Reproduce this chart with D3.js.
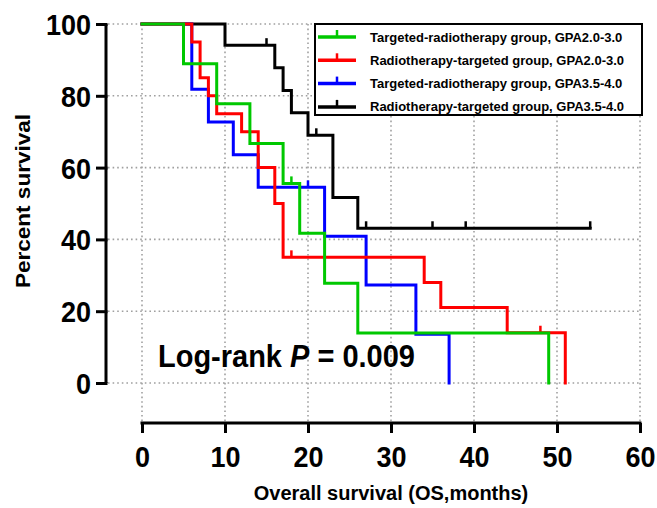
<!DOCTYPE html>
<html>
<head>
<meta charset="utf-8">
<script src="https://cdn.jsdelivr.net/npm/d3@7"></script>
<style>
  html, body { margin: 0; padding: 0; background: #fff; }
  svg { display: block; font-family: "Liberation Sans", Arial, sans-serif; }
</style>
</head>
<body>
<svg id="chart" width="657" height="508"></svg>
<script>
// ---- Data ----
const seriesNames = [
  "Targeted-radiotherapy group, GPA2.0-3.0",
  "Radiotherapy-targeted group, GPA2.0-3.0",
  "Targeted-radiotherapy group, GPA3.5-4.0",
  "Radiotherapy-targeted group, GPA3.5-4.0"
];
const seriesColors = ["#00c800", "#ff0000", "#0000ff", "#000000"];

const greenTimes = [0, 5, 9, 13, 17, 19, 22, 26, 49];
const greenSurv  = [100, 88.9, 77.8, 66.7, 55.6, 41.7, 27.8, 13.9, 0];
const greenCensor = [18];

const redTimes = [0, 6, 7, 8, 9, 12, 14, 16, 17, 34, 36, 44, 51];
const redSurv  = [100, 95, 85, 80, 75, 70, 60, 50, 35, 28, 21, 14, 0];
const redCensor = [18, 48];

const blueTimes = [0, 6, 8, 11, 14, 22, 27, 33, 37];
const blueSurv  = [100, 81.8, 72.7, 63.6, 54.5, 40.9, 27.3, 13.6, 0];
const blueCensor = [20];

const blackTimes = [0, 10, 16, 17, 18, 20, 23, 26, 54];
const blackSurv  = [100, 94.1, 87.8, 81.5, 75.3, 69.0, 51.7, 43.1, 43.1];
const blackCensor = [15, 21, 27, 35, 39, 54];

const xTicks = [0, 10, 20, 30, 40, 50, 60];
const yTicks = [0, 20, 40, 60, 80, 100];
const xTitle = "Overall survival (OS,months)";
const yTitle = "Percent survival";
const pLabel = ["Log-rank ", "P", " = 0.009"];

// ---- Layout ----
const svg = d3.select("#chart");
const x = d3.scaleLinear().domain([0, 60]).range([142, 640]);
const y = d3.scaleLinear().domain([0, 100]).range([383, 24]);
const yAxisX = 106;
const xAxisY = 423;

// gridlines
const grid = svg.append("g").attr("stroke", "#a0a0a0").attr("stroke-width", 1.6)
  .attr("stroke-dasharray", "1.6,3");
grid.selectAll("line.v").data(xTicks).join("line")
  .attr("x1", d => x(d)).attr("x2", d => x(d))
  .attr("y1", y(100)).attr("y2", xAxisY);
grid.selectAll("line.h").data(yTicks).join("line")
  .attr("x1", yAxisX + 2).attr("x2", x(60))
  .attr("y1", d => y(d)).attr("y2", d => y(d));

// axes
const yAxis = d3.axisLeft(y).tickValues(yTicks).tickSize(10).tickSizeOuter(0).tickPadding(5);
const gy = svg.append("g").attr("transform", `translate(${yAxisX},0)`).call(yAxis);
gy.select(".domain").attr("stroke", "#000").attr("stroke-width", 3).attr("d", `M0,${y(100)}V${y(0)}`);
gy.selectAll(".tick line").attr("stroke", "#000").attr("stroke-width", 3).attr("x1", 1.5);
gy.selectAll(".tick text").remove();
gy.selectAll(".tick").append("text")
  .attr("text-anchor", "end")
  .attr("font-size", 27).attr("font-weight", "bold").attr("fill", "#000")
  .attr("transform", "translate(-15,10.5) scale(1,1.1)")
  .text(d => d);

const xAxis = d3.axisBottom(x).tickValues(xTicks).tickSize(10).tickSizeOuter(0);
const gx = svg.append("g").attr("transform", `translate(0,${xAxisY})`).call(xAxis);
gx.select(".domain").attr("stroke", "#000").attr("stroke-width", 3).attr("d", `M${x(0) - 1.5},0H${x(60) + 1.5}`);
gx.selectAll(".tick line").attr("stroke", "#000").attr("stroke-width", 3);
gx.selectAll(".tick text").remove();
gx.selectAll(".tick").append("text")
  .attr("text-anchor", "middle")
  .attr("font-size", 27).attr("font-weight", "bold").attr("fill", "#000")
  .attr("transform", "translate(0,44) scale(1,1.1)")
  .text(d => d);

// axis titles
svg.append("text").attr("x", 391).attr("y", 499.5).attr("text-anchor", "middle")
  .attr("font-size", 20).attr("font-weight", "bold").text(xTitle);
svg.append("text").attr("transform", "translate(30,201) rotate(-90) scale(1.1,1)").attr("text-anchor", "middle")
  .attr("font-size", 20.5).attr("font-weight", "bold").text(yTitle);

// curves
const series = [
  { times: blackTimes, surv: blackSurv, censor: blackCensor, color: seriesColors[3] },
  { times: blueTimes, surv: blueSurv, censor: blueCensor, color: seriesColors[2] },
  { times: redTimes, surv: redSurv, censor: redCensor, color: seriesColors[1] },
  { times: greenTimes, surv: greenSurv, censor: greenCensor, color: seriesColors[0] }
];
const line = d3.line().x(d => x(d[0])).y(d => y(d[1])).curve(d3.curveStepAfter);
const survAt = (s, t) => {
  let v = s.surv[0];
  s.times.forEach((tt, i) => { if (tt <= t) v = s.surv[i]; });
  return v;
};
series.forEach(s => {
  const pts = s.times.map((t, i) => [t, s.surv[i]]);
  const g = svg.append("g");
  g.append("path").attr("d", line(pts)).attr("fill", "none")
    .attr("stroke", s.color).attr("stroke-width", 3).attr("stroke-linejoin", "miter")
    .attr("stroke-linecap", "square");
  g.selectAll("line").data(s.censor).join("line")
    .attr("x1", d => x(d)).attr("x2", d => x(d))
    .attr("y1", d => y(survAt(s, d))).attr("y2", d => y(survAt(s, d)) - 7)
    .attr("stroke", s.color).attr("stroke-width", 2.5);
});

// log-rank label
const pt = svg.append("text").attr("transform", "translate(158,367) scale(1,1.07)")
  .attr("font-size", 29).attr("font-weight", "bold");
pt.append("tspan").text(pLabel[0]);
pt.append("tspan").attr("font-style", "italic").text(pLabel[1]);
pt.append("tspan").text(pLabel[2]);

// legend
const lg = svg.append("g");
lg.append("rect").attr("x", 315).attr("y", 24).attr("width", 327).attr("height", 91)
  .attr("fill", "#fff").attr("stroke", "#000").attr("stroke-width", 2);
seriesNames.forEach((name, i) => {
  const cy = 37 + i * 23.3;
  lg.append("line").attr("x1", 318).attr("x2", 356).attr("y1", cy).attr("y2", cy)
    .attr("stroke", seriesColors[i]).attr("stroke-width", 3.5);
  lg.append("line").attr("x1", 337).attr("x2", 337).attr("y1", cy).attr("y2", cy - 7)
    .attr("stroke", seriesColors[i]).attr("stroke-width", 2.5);
  lg.append("text").attr("x", 370).attr("y", cy + 4.5)
    .attr("font-size", 13).attr("font-weight", "bold").text(name);
});
</script>
</body>
</html>
